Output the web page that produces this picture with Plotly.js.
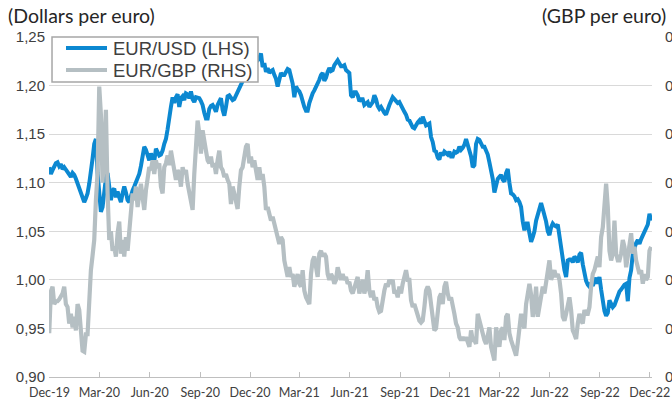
<!DOCTYPE html>
<html>
<head>
<meta charset="utf-8">
<script src="https://cdn.plot.ly/plotly-3.0.1.min.js"></script>
<style>
html,body{margin:0;padding:0;background:#fff;overflow:hidden;}
#chart{width:672px;height:405px;}
</style>
</head>
<body>
<div id="chart"></div>
<script>
// Observations: roughly every 3 days, first one on 30 Nov 2019
const firstObservation = Date.UTC(2019, 10, 30, 9, 22);
const observationStepDays = 1096 / 360;

// EUR/USD (dollars per euro), left axis
const eurUsd = [
1.116,1.109,1.113,1.117,1.120,1.121,1.117,1.119,1.114,1.116,
1.113,1.110,1.107,1.106,1.110,1.108,1.104,1.099,1.094,1.089,
1.084,1.080,1.084,1.089,1.099,1.110,1.125,1.140,1.145,1.110,
1.090,1.070,1.075,1.089,1.105,1.110,1.092,1.082,1.092,1.094,
1.085,1.091,1.085,1.080,1.089,1.096,1.090,1.082,1.080,1.088,
1.092,1.096,1.100,1.105,1.109,1.117,1.127,1.137,1.134,1.128,
1.123,1.130,1.125,1.122,1.135,1.130,1.128,1.129,1.133,1.140,
1.145,1.155,
1.164,1.178,1.188,1.182,1.188,1.191,1.178,1.187,1.189,1.185,
1.192,1.191,1.187,1.194,1.186,1.183,1.188,1.188,1.187,1.184,
1.180,1.172,1.166,1.166,1.176,1.179,1.180,1.177,1.173,1.180,
1.184,1.187,1.175,1.169,1.178,1.189,1.190,1.187,1.185,1.186,
1.190,1.192,1.196,1.200,1.204,1.208,1.212,1.215,1.218,1.215,
1.219,1.222,1.224,1.226,1.228,1.233,1.219,1.223,1.214,1.218,
1.213,1.215,1.216,1.211,1.207,1.199,1.209,1.213,1.211,1.211,
1.214,1.217,
1.216,1.210,1.202,1.188,1.199,1.196,1.194,1.190,1.183,1.178,
1.174,1.174,1.182,1.188,1.192,1.195,1.198,1.202,1.206,1.211,
1.213,1.205,1.208,1.214,1.218,1.215,1.216,1.221,1.224,1.226,
1.223,1.220,1.220,1.221,1.216,1.214,1.213,1.190,1.188,1.193,
1.193,1.190,1.184,1.186,1.186,1.180,1.182,1.183,1.178,1.181,
1.183,1.190,1.186,1.179,1.176,1.178,1.174,1.172,1.170,1.176,
1.180,1.184,1.188,1.186,1.183,1.182,1.183,1.179,1.177,1.173,
1.170,1.165,
1.164,1.159,1.157,1.156,1.160,1.162,1.164,1.161,1.168,1.163,
1.159,1.160,1.161,1.147,1.142,1.133,1.132,1.126,1.124,1.131,
1.128,1.132,1.130,1.129,1.132,1.127,1.127,1.132,1.131,1.132,
1.137,1.134,1.136,1.139,1.145,1.139,1.133,1.127,1.116,1.118,
1.140,1.145,1.144,1.140,1.137,1.137,1.133,1.129,1.121,1.113,
1.104,1.090,1.100,1.104,1.106,1.108,1.103,1.101,1.110,1.114,
1.100,1.089,1.088,1.086,1.082,1.083,1.080,1.075,1.060,1.051,
1.058,1.058,
1.048,1.039,1.044,1.050,1.061,1.066,1.072,1.079,1.073,1.067,
1.060,1.050,1.046,1.054,1.058,1.056,1.055,1.057,1.044,1.034,
1.017,1.010,1.003,1.020,1.021,1.021,1.018,1.024,1.022,1.018,
1.026,1.028,1.016,1.006,0.999,0.995,0.993,0.997,0.994,0.998,
1.002,0.996,1.003,0.990,0.978,0.968,0.963,0.966,0.979,0.976,
0.972,0.974,0.979,0.986,0.988,0.990,0.993,0.995,0.996,0.978,
1.002,1.010,1.027,1.034,1.038,1.041,1.037,1.042,1.046,1.051,
1.054,1.057,1.068,1.061
];

// EUR/GBP (pounds per euro), right axis
const eurGbp = [
0.8280,0.8452,0.8472,0.8400,0.8412,0.8412,0.8420,0.8432,0.8444,0.8472,
0.8400,0.8388,0.8320,0.8360,0.8304,0.8348,0.8292,0.8400,0.8376,0.8292,
0.8208,0.8204,0.8276,0.8276,0.8460,0.8540,0.8600,0.8664,0.8828,0.8940,
0.9296,0.9180,0.8900,0.9100,0.9200,0.8860,0.8664,0.8700,0.8620,0.8636,
0.8596,0.8692,0.8740,0.8608,0.8664,0.8596,0.8676,0.8620,0.8716,0.8800,
0.8856,0.8828,0.8884,0.8800,0.8868,0.8896,0.8840,0.8788,0.8868,0.8912,
0.8964,0.8952,0.8992,0.8936,0.8992,0.8960,0.8980,0.8884,0.8856,0.8964,
0.8980,0.9012,
0.8972,0.9032,0.8992,0.8936,0.8912,0.8952,0.8936,0.8884,0.8964,0.8936,
0.8952,0.8896,0.8856,0.8812,0.8788,0.8936,0.9076,0.9156,0.9104,0.9020,
0.9116,0.9060,0.9032,0.8992,0.8980,0.9008,0.8964,0.8980,0.8936,0.8992,
0.9032,0.8964,0.8952,0.8924,0.8936,0.8912,0.8896,0.8812,0.8884,0.8856,
0.8828,0.8792,0.8884,0.8952,0.8964,0.9008,0.9048,0.9060,0.8980,0.9008,
0.8964,0.8992,0.8952,0.8912,0.8964,0.8912,0.8936,0.8884,0.8788,0.8800,
0.8772,0.8744,0.8760,0.8732,0.8704,0.8676,0.8648,0.8676,0.8664,0.8580,
0.8552,0.8512,
0.8552,0.8512,0.8524,0.8472,0.8500,0.8524,0.8484,0.8472,0.8540,0.8456,
0.8428,0.8416,0.8400,0.8524,0.8580,0.8596,0.8552,0.8512,0.8608,0.8620,
0.8596,0.8608,0.8596,0.8524,0.8500,0.8524,0.8512,0.8484,0.8500,0.8552,
0.8524,0.8500,0.8524,0.8500,0.8512,0.8484,0.8492,0.8456,0.8444,0.8472,
0.8500,0.8512,0.8444,0.8472,0.8500,0.8444,0.8472,0.8540,0.8456,0.8428,
0.8456,0.8416,0.8428,0.8388,0.8368,0.8372,0.8428,0.8456,0.8484,0.8472,
0.8500,0.8484,0.8500,0.8444,0.8456,0.8428,0.8472,0.8444,0.8484,0.8512,
0.8540,0.8500,
0.8500,0.8416,0.8388,0.8400,0.8376,0.8348,0.8332,0.8324,0.8332,0.8388,
0.8456,0.8472,0.8456,0.8400,0.8332,0.8292,0.8300,0.8388,0.8428,0.8444,
0.8400,0.8472,0.8492,0.8444,0.8416,0.8428,0.8400,0.8360,0.8320,0.8304,
0.8264,0.8252,0.8264,0.8252,0.8264,0.8236,0.8224,0.8292,0.8252,0.8252,
0.8236,0.8360,0.8332,0.8292,0.8276,0.8252,0.8236,0.8264,0.8304,0.8224,
0.8188,0.8168,0.8304,0.8264,0.8224,0.8292,0.8304,0.8252,0.8348,0.8360,
0.8280,0.8252,0.8228,0.8200,0.8188,0.8240,0.8304,0.8360,0.8320,0.8300,
0.8400,0.8444,
0.8484,0.8440,0.8348,0.8388,0.8472,0.8348,0.8400,0.8444,0.8472,0.8444,
0.8500,0.8524,0.8580,0.8500,0.8524,0.8540,0.8512,0.8524,0.8500,0.8444,
0.8348,0.8332,0.8360,0.8388,0.8428,0.8376,0.8292,0.8276,0.8256,0.8320,
0.8360,0.8332,0.8320,0.8376,0.8360,0.8360,0.8388,0.8472,0.8524,0.8540,
0.8568,0.8596,0.8552,0.8676,0.8716,0.8800,0.8896,0.8800,0.8620,0.8580,
0.8608,0.8744,0.8608,0.8580,0.8580,0.8608,0.8664,0.8636,0.8552,0.8596,
0.8664,0.8692,0.8608,0.8636,0.8580,0.8552,0.8524,0.8540,0.8484,0.8524,
0.8500,0.8512,0.8620,0.8636
];

const tickDates = ['2019-12-01','2020-03-01','2020-06-01','2020-09-01','2020-12-01','2021-03-01',
  '2021-06-01','2021-09-01','2021-12-01','2022-03-01','2022-06-01','2022-09-01','2022-12-01'];
const tickLabels = ['Dec-19','Mar-20','Jun-20','Sep-20','Dec-20','Mar-21','Jun-21','Sep-21',
  'Dec-21','Mar-22','Jun-22','Sep-22','Dec-22'];

const seriesNames = ['EUR/USD (LHS)', 'EUR/GBP (RHS)'];
const seriesColors = ['#0C88D1', '#B5BFC3'];
const leftTitle = '(Dollars per euro)';
const rightTitle = '(GBP per euro)';

const dayMs = 86400000;
const dates = eurUsd.map((_, i) => firstObservation + i * observationStepDays * dayMs);

const tickFont = {family: 'Liberation Sans, Arial, sans-serif', size: 15, color: '#404040'};

const traces = [
  {x: dates, y: eurUsd, name: seriesNames[0], type: 'scatter', mode: 'lines',
   line: {color: seriesColors[0], width: 4}, yaxis: 'y', hoverinfo: 'skip'},
  {x: dates, y: eurGbp, name: seriesNames[1], type: 'scatter', mode: 'lines',
   line: {color: seriesColors[1], width: 4.2}, yaxis: 'y2', hoverinfo: 'skip'}
];

// Legend box drawn in paper coordinates (plot area spans 49..652 px, 37..377 px)
const legendBox = {x0: 0.005, x1: 0.3466, y0: 0.8676, y1: 1.0};
const legendRows = [0.9676, 0.9029];
const legendSample = {x0: 0.0282, x1: 0.0962, textX: 0.1028};

const shapes = [
  {type: 'rect', xref: 'paper', yref: 'paper', layer: 'above',
   x0: legendBox.x0, x1: legendBox.x1, y0: legendBox.y0, y1: legendBox.y1,
   fillcolor: '#ffffff', line: {color: '#A6A6A6', width: 1.5}}
];
const annotations = [
  {text: leftTitle, xref: 'paper', yref: 'paper', x: -0.071, y: 1.062,
   xanchor: 'left', yanchor: 'middle', showarrow: false,
   font: {family: 'Lato, sans-serif', size: 19.5, color: '#262626'}},
  {text: rightTitle, xref: 'paper', yref: 'paper', x: 1.027, y: 1.062,
   xanchor: 'right', yanchor: 'middle', showarrow: false,
   font: {family: 'Lato, sans-serif', size: 19.5, color: '#262626'}}
];
seriesNames.forEach((name, i) => {
  shapes.push({type: 'line', xref: 'paper', yref: 'paper', layer: 'above',
    x0: legendSample.x0, x1: legendSample.x1, y0: legendRows[i], y1: legendRows[i],
    line: {color: seriesColors[i], width: 4}});
  annotations.push({text: name, xref: 'paper', yref: 'paper',
    x: legendSample.textX, y: legendRows[i], xanchor: 'left', yanchor: 'middle',
    showarrow: false,
    font: {family: 'Liberation Sans, Arial, sans-serif', size: 18.5, color: '#404040'}});
});

const layout = {
  width: 672, height: 405,
  margin: {l: 49, r: 20, t: 37, b: 28},
  paper_bgcolor: '#ffffff', plot_bgcolor: '#ffffff',
  separators: ',.',
  showlegend: false,
  xaxis: {
    type: 'date', range: ['2019-11-30', '2022-12-05'],
    tickmode: 'array', tickvals: tickDates, ticktext: tickLabels,
    ticks: 'inside', ticklen: 5, tickcolor: '#BFBFBF', tickwidth: 1,
    showline: true, linecolor: '#BFBFBF', linewidth: 1,
    showgrid: false, zeroline: false,
    tickfont: {family: 'Lato, sans-serif', size: 12.5, color: '#404040'},
    ticklabelstandoff: 4
  },
  yaxis: {
    range: [0.90, 1.25], tick0: 0.90, dtick: 0.05, tickformat: '.2f',
    showgrid: true, gridcolor: '#D9D9D9', gridwidth: 1,
    zeroline: false, showline: false, ticks: '',
    tickfont: tickFont, ticklabelstandoff: 3
  },
  yaxis2: {
    overlaying: 'y', side: 'right',
    range: [0.81, 0.95], tick0: 0.81, dtick: 0.02, tickformat: '.2f',
    showgrid: false, zeroline: false, showline: false, ticks: '',
    tickfont: tickFont, ticklabelstandoff: 12
  },
  shapes: shapes,
  annotations: annotations
};

Plotly.newPlot('chart', traces, layout, {displayModeBar: false, staticPlot: true});
</script>
</body>
</html>
